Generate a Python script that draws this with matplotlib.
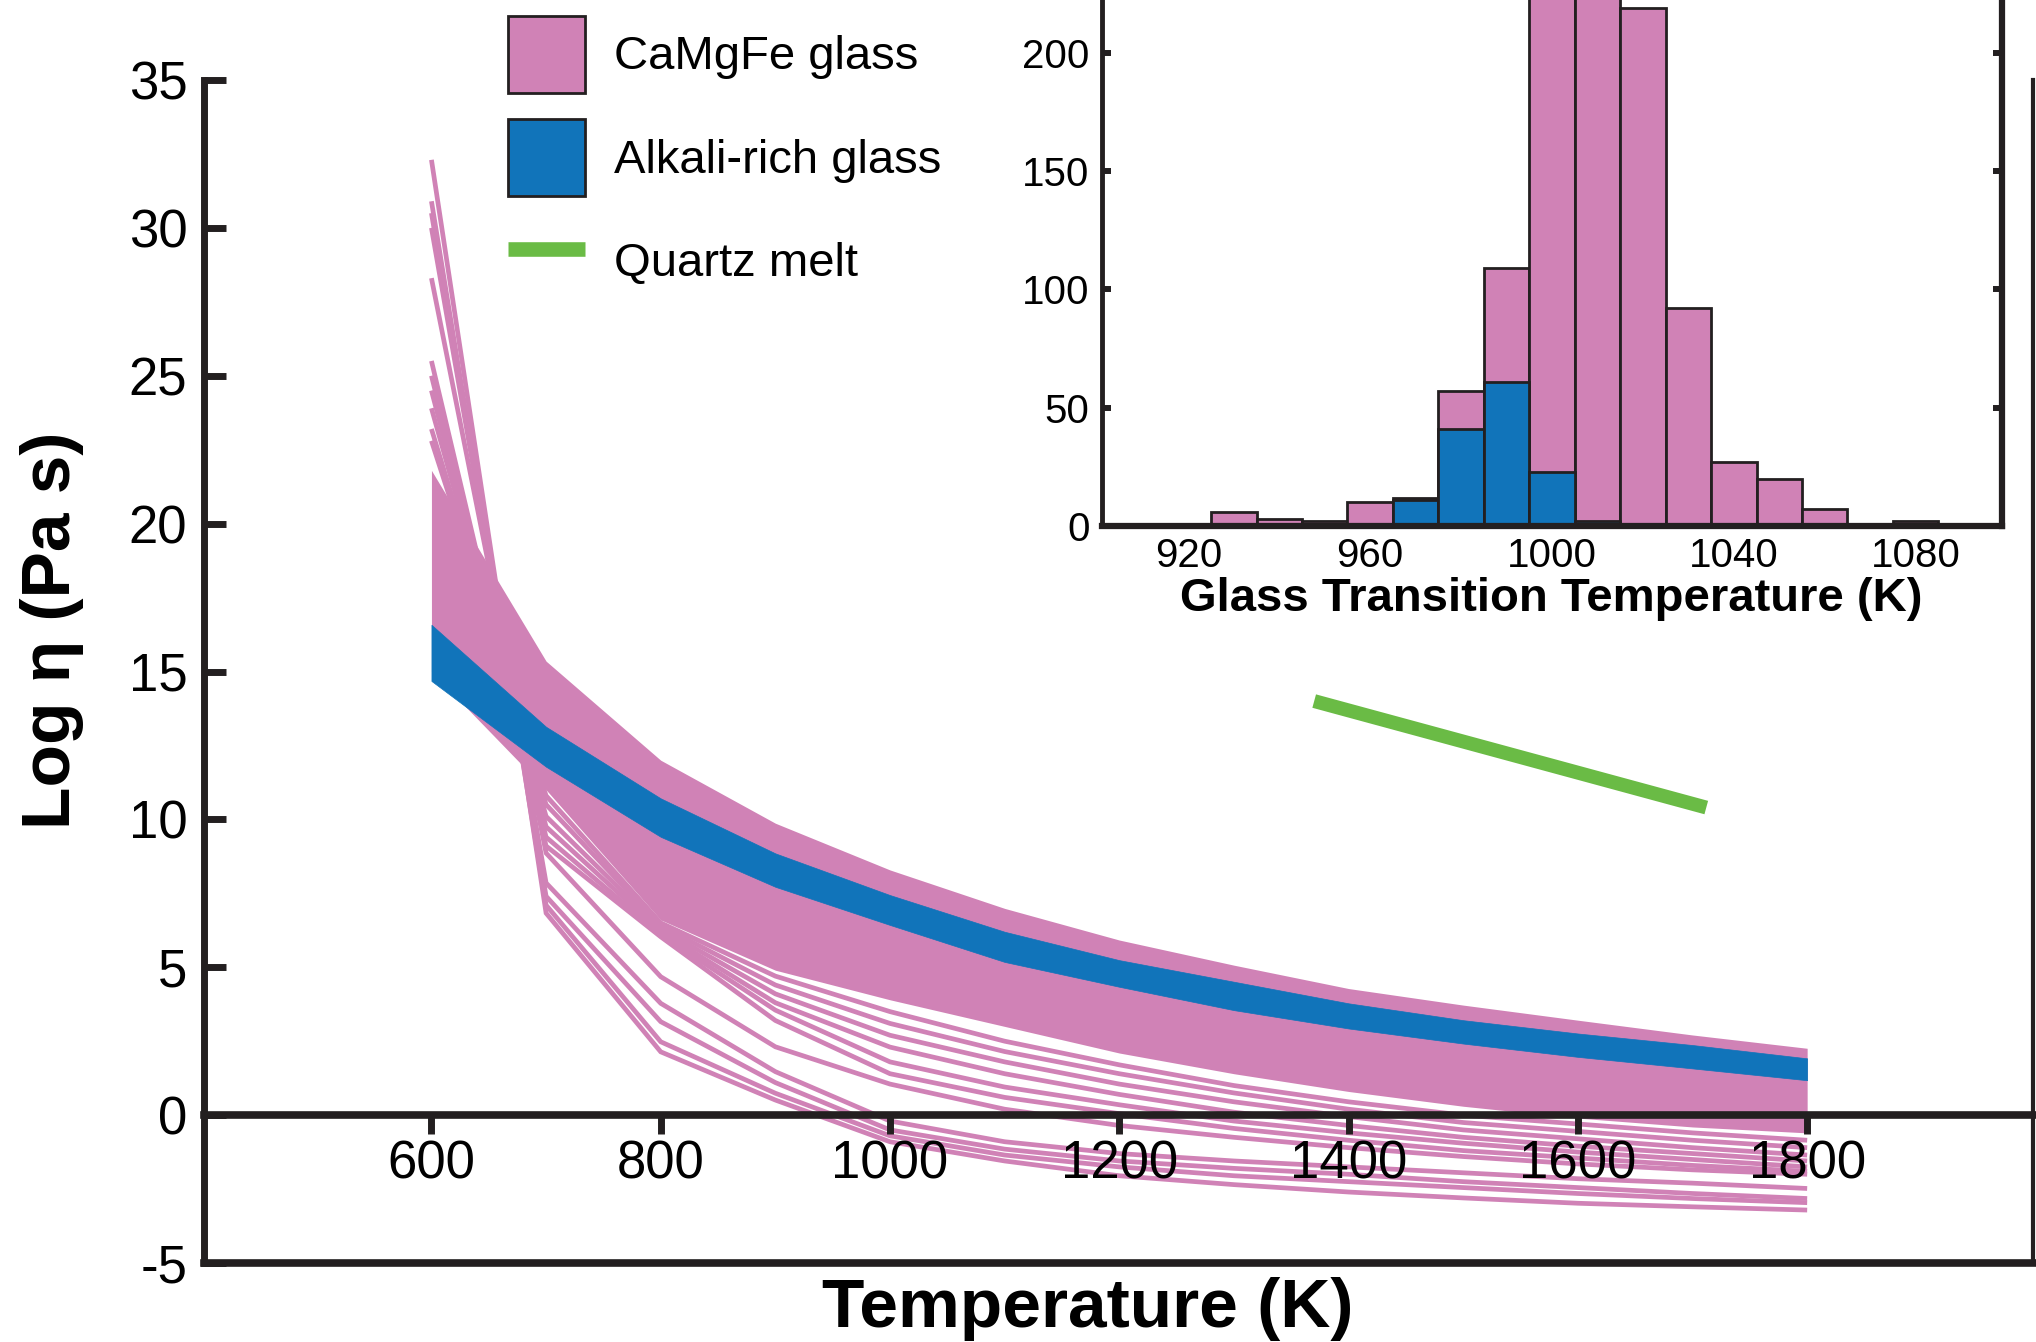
import matplotlib
matplotlib.use("Agg")
import matplotlib.pyplot as plt
from matplotlib.patches import Patch
from matplotlib.lines import Line2D

plt.rcParams['font.family'] = ['Liberation Sans', 'DejaVu Sans']
plt.rcParams['axes.unicode_minus'] = False

# ---------------- data ----------------
temps = [600, 700, 800, 900, 1000, 1100, 1200, 1300, 1400, 1500, 1600, 1700, 1800]

# dense CaMgFe glass band (envelope of the many overlapping curves)
camgfe_upper = [21.8, 15.35, 12.0, 9.87, 8.29, 6.99, 5.92, 5.07, 4.28, 3.72, 3.21, 2.71, 2.26]
camgfe_lower = [15.0, 11.0, 6.6, 4.9, 3.9, 3.0, 2.1, 1.4, 0.8, 0.3, -0.1, -0.4, -0.6]

# individually visible CaMgFe glass curves
camgfe_m1 = [22.8, 10.8, 6.5, 4.7, 3.5, 2.5, 1.7, 1.0, 0.45, 0.0, -0.3, -0.6, -0.85]
camgfe_m2 = [23.2, 10.5, 6.4, 4.4, 3.1, 2.15, 1.4, 0.75, 0.2, -0.25, -0.55, -0.85, -1.1]
camgfe_m3 = [23.9, 10.1, 6.3, 4.1, 2.7, 1.8, 1.05, 0.45, -0.05, -0.5, -0.8, -1.1, -1.35]
camgfe_m4 = [24.5, 9.75, 6.2, 3.8, 2.3, 1.4, 0.7, 0.1, -0.35, -0.75, -1.05, -1.3, -1.55]
camgfe_m5 = [25.0, 9.4, 6.1, 3.55, 1.8, 0.95, 0.35, -0.2, -0.6, -0.95, -1.25, -1.5, -1.75]
camgfe_m6 = [25.5, 9.1, 6.03, 3.2, 1.4, 0.6, 0.05, -0.45, -0.85, -1.2, -1.45, -1.7, -1.9]
camgfe_m7 = [28.3, 8.86, 4.68, 2.31, 1.05, 0.2, -0.35, -0.75, -1.1, -1.4, -1.65, -1.85, -2.0]
camgfe_l4 = [30.0, 7.85, 3.78, 1.47, -0.2, -0.9, -1.3, -1.55, -1.75, -1.95, -2.15, -2.3, -2.48]
camgfe_l3 = [30.5, 7.4, 3.16, 1.1, -0.5, -1.15, -1.55, -1.8, -2.0, -2.25, -2.45, -2.65, -2.82]
camgfe_l2 = [30.9, 7.1, 2.48, 0.74, -0.7, -1.35, -1.75, -2.05, -2.25, -2.45, -2.65, -2.82, -2.96]
camgfe_l1 = [32.3, 6.83, 2.14, 0.51, -0.9, -1.55, -2.05, -2.35, -2.6, -2.8, -2.98, -3.1, -3.21]
camgfe_curves = [camgfe_m1, camgfe_m2, camgfe_m3, camgfe_m4, camgfe_m5, camgfe_m6,
                 camgfe_m7, camgfe_l4, camgfe_l3, camgfe_l2, camgfe_l1]

# alkali-rich glass band
alkali_upper = [16.58, 13.13, 10.71, 8.85, 7.44, 6.20, 5.24, 4.51, 3.78, 3.21, 2.76, 2.37, 1.92]
alkali_lower = [14.68, 11.78, 9.41, 7.72, 6.43, 5.18, 4.34, 3.55, 2.93, 2.42, 1.97, 1.58, 1.18]

# quartz melt
quartz_T = [1370, 1712]
quartz_eta = [14.0, 10.4]

xticks = [600, 800, 1000, 1200, 1400, 1600, 1800]
yticks = [35, 30, 25, 20, 15, 10, 5, 0, -5]
ytick_labels = ['35', '30', '25', '20', '15', '10', '5', '0', '-5']

# inset histogram of glass transition temperature
tg_bins = [910, 920, 930, 940, 950, 960, 970, 980, 990, 1000, 1010, 1020, 1030,
           1040, 1050, 1060, 1070, 1080, 1090]
tg_camgfe = [0, 0, 6, 3, 2, 10, 12, 57, 109, 300, 275, 219, 92, 27, 20, 7, 0, 2, 0]
tg_alkali = [0, 0, 0, 0, 0, 0, 11, 41, 61, 23, 2, 0, 0, 0, 0, 0, 0, 0, 0]
inset_xticks = [920, 960, 1000, 1040, 1080]
inset_yticks = [0, 50, 100, 150, 200]

# ---------------- style ----------------
PINK = '#D082B6'
BLUE = '#1174BA'
GREEN = '#6ABB45'
INK = '#231F20'

W, H, DPI = 2036, 1342, 100
fig = plt.figure(figsize=(W / DPI, H / DPI), dpi=DPI)


def fx(px):
    return px / W


def fy(py):
    return 1 - py / H


# ---------------- main axes ----------------
ax = fig.add_axes([fx(204), fy(1263), (2033 - 204) / W, (1263 - 80) / H])
ax.set_xlim(401.6, 1997)
ax.set_ylim(-5, 35)
ax.set_axisbelow(False)

ax.fill_between(temps, camgfe_lower, camgfe_upper, color=PINK, lw=0, zorder=2)
for c in camgfe_curves:
    ax.plot(temps, c, color=PINK, lw=3.4, solid_joinstyle='miter',
            solid_capstyle='butt', zorder=2)
ax.fill_between(temps, alkali_lower, alkali_upper, color=BLUE, lw=0.5,
                edgecolor=BLUE, zorder=2.2)
ax.plot(quartz_T, quartz_eta, color=GREEN, lw=10, solid_capstyle='butt', zorder=2.3)

ax.spines['top'].set_visible(False)
ax.spines['left'].set_linewidth(5)
ax.spines['right'].set_linewidth(3)
ax.spines['bottom'].set_position(('data', 0))
ax.spines['bottom'].set_linewidth(5.5)
for s in ['left', 'right', 'bottom']:
    ax.spines[s].set_color(INK)
ax.axhline(-5, color=INK, lw=5.5, clip_on=False, zorder=5)

ax.set_yticks(yticks)
ax.set_yticklabels(ytick_labels)
ax.set_xticks(xticks)
ax.set_xticklabels([str(t) for t in xticks])
ax.tick_params(axis='y', direction='in', length=16, width=5, pad=12,
               labelsize=38, color=INK, labelcolor='black', right=False)
ax.tick_params(axis='x', direction='out', length=13.5, width=5, pad=4,
               labelsize=38, color=INK, labelcolor='black')

ax.set_ylabel('Log η (Pa s)', fontsize=50, fontweight='bold', va='center', ha='center')
ax.yaxis.set_label_coords(fx(52), fy(630), transform=fig.transFigure)
ax.set_xlabel('Temperature (K)', fontsize=50, fontweight='bold', va='center', ha='center')
ax.xaxis.set_label_coords(fx(1088), fy(1309), transform=fig.transFigure)

handles = [Patch(facecolor=PINK, edgecolor=INK, lw=2),
           Patch(facecolor=BLUE, edgecolor=INK, lw=2),
           Line2D([], [], color=GREEN, lw=10.5, solid_capstyle='butt')]
ax.legend(handles, ['CaMgFe glass', 'Alkali-rich glass', 'Quartz melt'],
          loc='upper left', bbox_to_anchor=(fx(508), fy(16)),
          bbox_transform=fig.transFigure, frameon=False, fontsize=34,
          handlelength=1.63, handleheight=2.13, handletextpad=0.62,
          labelspacing=0.56, borderpad=0, borderaxespad=0)

# ---------------- inset ----------------
axi = fig.add_axes([fx(1102), fy(526), 900 / W, 591.5 / H])
axi.bar(tg_bins, tg_camgfe, width=10, color=PINK, edgecolor=INK, lw=2, zorder=2)
axi.bar(tg_bins, tg_alkali, width=10, color=BLUE, edgecolor=INK, lw=2, zorder=3)
axi.set_xlim(901, 1099)
axi.set_ylim(0, 250)
axi.spines['top'].set_visible(False)
axi.spines['left'].set_linewidth(3.5)
axi.spines['right'].set_linewidth(4.5)
axi.spines['bottom'].set_linewidth(4.5)
for s in ['left', 'right', 'bottom']:
    axi.spines[s].set_color(INK)
    axi.spines[s].set_zorder(5)
axi.set_yticks(inset_yticks)
axi.set_xticks(inset_xticks)
axi.tick_params(axis='y', direction='in', length=6.5, width=4.3, pad=9,
                labelsize=29, left=True, right=True, color=INK)
axi.tick_params(axis='x', direction='in', length=0, pad=8, labelsize=29)
axi.set_xlabel('Glass Transition Temperature (K)', fontsize=34, fontweight='bold',
               va='center', ha='center')
axi.xaxis.set_label_coords(fx(1551), fy(599), transform=fig.transFigure)

fig.savefig('out.png', dpi=DPI)
